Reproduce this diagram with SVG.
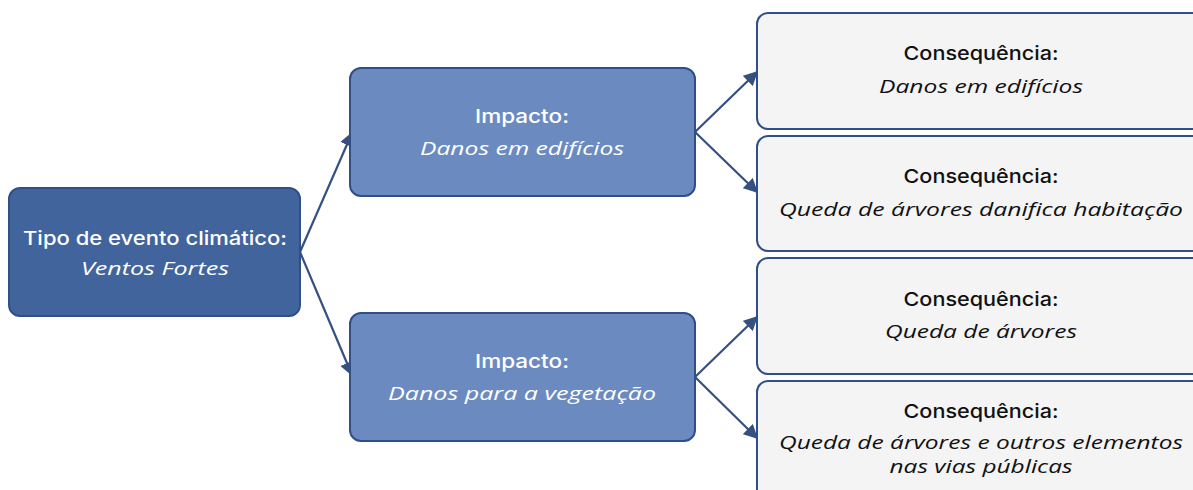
<svg xmlns="http://www.w3.org/2000/svg" width="1193" height="490" viewBox="0 0 1193 490">
<defs>
<style>
.t{font-family:"Open Sans","Noto Sans",sans-serif;font-size:19px;text-anchor:middle}
.h{font-family:Inter,"Open Sans",sans-serif;font-weight:500}
.w{fill:#ffffff}
.k{fill:#111111}
.i{font-style:italic}
.root{fill:#42649D;stroke:#2F4F86;stroke-width:2}
.imp{fill:#6B8BC0;stroke:#2F4F86;stroke-width:2}
.con{fill:#F4F4F4;stroke:#2F4F86;stroke-width:2}
.edge{stroke:#344F80;stroke-width:2.2;fill:none}
</style>
<marker id="ah" viewBox="0 0 10 10" refX="9" refY="5" markerWidth="6.5" markerHeight="6.5" markerUnits="strokeWidth" orient="auto">
<path d="M0,0 L10,5 L0,10 Z" fill="#344F80"/>
</marker>
</defs>
<rect width="1193" height="490" fill="#ffffff"/>
<g id="connectors">
<line class="edge" x1="300" y1="252" x2="352" y2="133" marker-end="url(#ah)"/>
<line class="edge" x1="300" y1="252" x2="352" y2="375" marker-end="url(#ah)"/>
<line class="edge" x1="695" y1="132" x2="757" y2="72" marker-end="url(#ah)"/>
<line class="edge" x1="695" y1="132" x2="757" y2="192" marker-end="url(#ah)"/>
<line class="edge" x1="695" y1="377" x2="757" y2="317" marker-end="url(#ah)"/>
<line class="edge" x1="695" y1="377" x2="757" y2="438" marker-end="url(#ah)"/>
</g>
<g id="root">
<rect class="root" x="9" y="188" width="291" height="128" rx="11"/>
<text class="t h w" x="155" y="245" textLength="264" lengthAdjust="spacingAndGlyphs">Tipo de evento climático:</text>
<text class="t w i" x="155" y="275" textLength="148" lengthAdjust="spacingAndGlyphs">Ventos Fortes</text>
</g>
<g id="impact1">
<rect class="imp" x="350" y="68" width="345" height="128" rx="11"/>
<text class="t h w" x="522" y="123" textLength="94" lengthAdjust="spacingAndGlyphs">Impacto:</text>
<text class="t w i" x="522" y="155" textLength="204" lengthAdjust="spacingAndGlyphs">Danos em edifícios</text>
</g>
<g id="impact2">
<rect class="imp" x="350" y="313" width="345" height="128" rx="11"/>
<text class="t h w" x="522" y="368" textLength="94" lengthAdjust="spacingAndGlyphs">Impacto:</text>
<text class="t w i" x="522" y="400" textLength="268" lengthAdjust="spacingAndGlyphs">Danos para a vegetação</text>
</g>
<g id="cons1">
<rect class="con" x="757" y="13" width="460" height="116" rx="11"/>
<text class="t h k" x="981" y="60" textLength="155" lengthAdjust="spacingAndGlyphs">Consequência:</text>
<text class="t k i" x="981" y="93" textLength="204" lengthAdjust="spacingAndGlyphs">Danos em edifícios</text>
</g>
<g id="cons2">
<rect class="con" x="757" y="136" width="460" height="115" rx="11"/>
<text class="t h k" x="981" y="183" textLength="155" lengthAdjust="spacingAndGlyphs">Consequência:</text>
<text class="t k i" x="981" y="216" textLength="404" lengthAdjust="spacingAndGlyphs">Queda de árvores danifica habitação</text>
</g>
<g id="cons3">
<rect class="con" x="757" y="258" width="460" height="116" rx="11"/>
<text class="t h k" x="981" y="306" textLength="155" lengthAdjust="spacingAndGlyphs">Consequência:</text>
<text class="t k i" x="981" y="338" textLength="192" lengthAdjust="spacingAndGlyphs">Queda de árvores</text>
</g>
<g id="cons4">
<rect class="con" x="757" y="381" width="460" height="130" rx="11"/>
<text class="t h k" x="981" y="418" textLength="155" lengthAdjust="spacingAndGlyphs">Consequência:</text>
<text class="t k i" x="981" y="449" textLength="404" lengthAdjust="spacingAndGlyphs">Queda de árvores e outros elementos</text>
<text class="t k i" x="981" y="473" textLength="183" lengthAdjust="spacingAndGlyphs">nas vias públicas</text>
</g>
</svg>
